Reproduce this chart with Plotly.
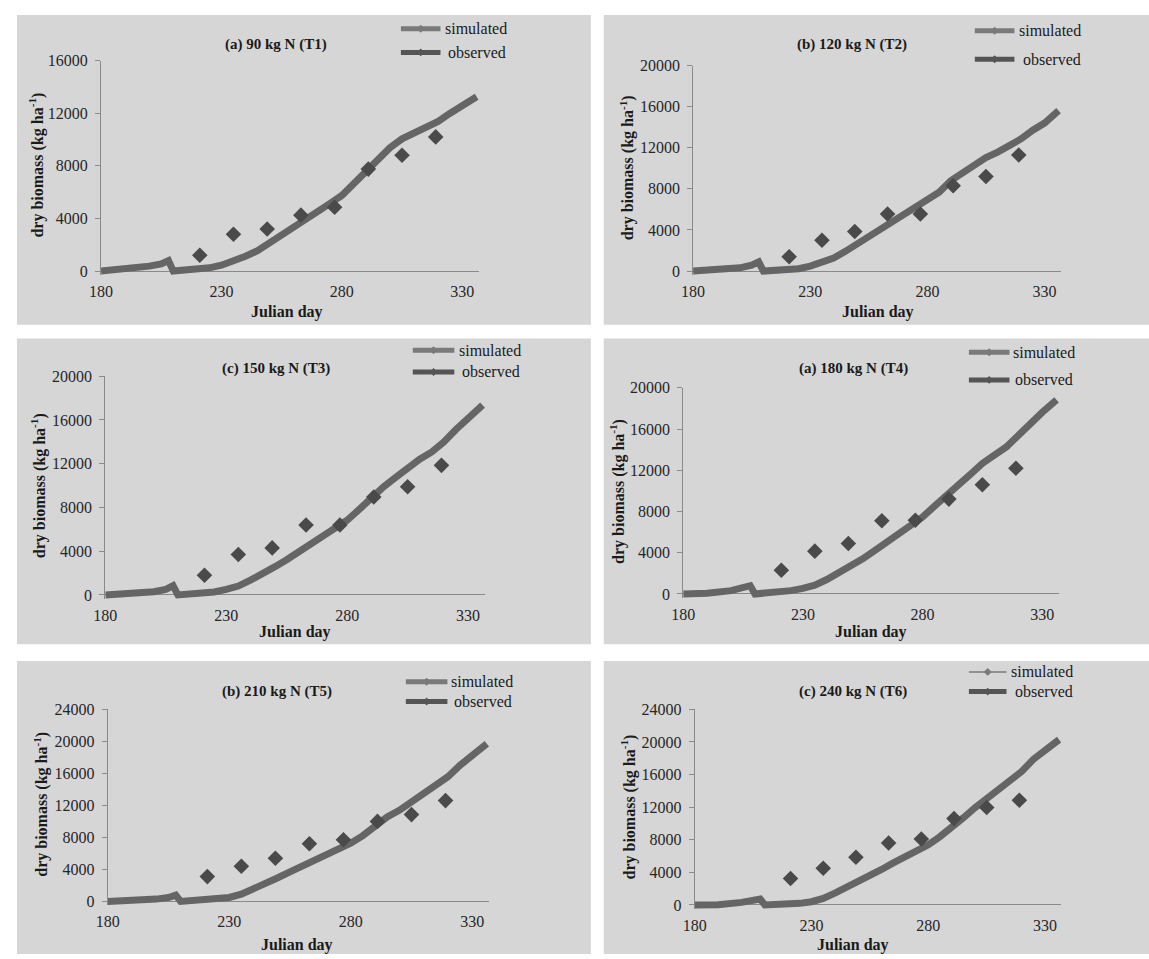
import plotly.graph_objects as go

W, H = 1149, 959

# ---------------- data ----------------
sim_days = [180, 190, 200, 205, 208, 210, 215, 220, 225, 230, 235, 240, 245, 250, 255,
            260, 265, 270, 275, 280, 285, 290, 295, 300, 305, 310, 315, 320, 325, 330, 336]

sim_T1 = [0, 125, 375, 550, 800, 0, 50, 125, 250, 450, 750, 1125, 1550, 2125, 2700,
          3300, 3875, 4550, 5125, 5750, 6625, 7625, 8500, 9375, 10050, 10500, 10875, 11375, 12000, 12550, 13250]
sim_T2 = [0, 100, 320, 575, 900, 0, 64, 100, 225, 480, 860, 1280, 1920, 2650, 3360,
          4100, 4800, 5600, 6240, 6980, 7680, 8800, 9600, 10240, 11040, 11580, 12160, 12860, 13700, 14400, 15600]
sim_T3 = [0, 90, 300, 510, 840, 0, 60, 120, 270, 510, 810, 1350, 1900, 2560, 3220,
          3910, 4600, 5320, 6100, 6830, 7820, 8870, 9870, 10740, 11670, 12420, 13080, 13990, 15130, 16090, 17360]
sim_T4 = [0, 60, 320, 540, 800, 0, 60, 130, 320, 540, 860, 1400, 2040, 2680, 3410,
          4210, 5010, 5800, 6670, 7460, 8520, 9470, 10590, 11610, 12660, 13460, 14260, 15380, 16590, 17610, 18820]
sim_T5 = [0, 80, 290, 490, 780, 0, 80, 160, 290, 490, 900, 1520, 2260, 2960, 3700,
          4400, 5140, 5840, 6580, 7280, 8220, 9330, 10560, 11380, 12490, 13440, 14470, 15580, 17020, 18170, 19690]
sim_T6 = [0, 40, 320, 520, 730, 0, 40, 80, 200, 400, 800, 1450, 2140, 2820, 3550,
          4360, 5160, 5890, 6660, 7380, 8390, 9680, 10690, 11940, 13110, 14040, 15250, 16380, 17870, 18960, 20290]

obs_days = [221, 235, 249, 263, 277, 291, 305, 319]
obs_T1 = [1200, 2800, 3200, 4250, 4850, 7750, 8800, 10200]
obs_T2 = [1400, 3000, 3850, 5550, 5550, 8300, 9200, 11300]
obs_T3 = [1800, 3700, 4300, 6400, 6400, 8950, 9900, 11850]
obs_T4 = [2300, 4150, 4900, 7100, 7150, 9200, 10600, 12200]
obs_T5 = [3100, 4400, 5400, 7200, 7700, 10000, 10850, 12600]
obs_T6 = [3250, 4500, 5850, 7600, 8100, 10600, 11950, 12850]

titles = ["(a) 90 kg N (T1)", "(b) 120 kg N (T2)", "(c) 150 kg N (T3)",
          "(a) 180 kg N (T4)", "(b) 210 kg N (T5)", "(c) 240 kg N (T6)"]
y_max = [16000, 20000, 20000, 20000, 24000, 24000]
y_dtick = [4000, 4000, 4000, 4000, 4000, 4000]
x_ticks = [180, 230, 280, 330]
x_range = [180, 337]
legend_names = ["simulated", "observed"]
x_title = "Julian day"
y_title = "dry biomass (kg ha<sup>-1</sup>)"

sims = [sim_T1, sim_T2, sim_T3, sim_T4, sim_T5, sim_T6]
obss = [obs_T1, obs_T2, obs_T3, obs_T4, obs_T5, obs_T6]

# ---------------- layout geometry (pixels) ----------------
# (axis-left px, axis-right px, y px of zero, y px of max)
geo = [
    (90.0, 472.0, 266.7, 53.3),
    (688.3, 1060.0, 266.7, 58.3),
    (94.3, 478.0, 595.0, 373.3),
    (678.3, 1058.0, 594.0, 385.0),
    (96.7, 482.3, 905.7, 711.0),
    (690.0, 1060.5, 909.3, 711.0),
]
bg_rects = [
    (5, 7, 585, 321), (598, 7, 1149, 321),
    (5, 335, 585, 645), (598, 335, 1149, 645),
    (5, 662, 585, 959), (598, 662, 1149, 959),
]
title_pos = [(267, 37), (849, 37), (267, 365), (850, 365), (268, 693), (850, 693)]
ytitle_pos = [(25, 159), (622, 162), (27, 484), (612, 490), (29, 807), (623, 810)]
xtitle_pos = [(278, 308), (875, 308), (286, 633), (868, 633), (288, 950), (850, 950)]
# legend: (line x0, line x1, y sim, y obs, text x sim, text x obs)
leg_pos = [
    (393, 433, 21, 45, 436, 439),
    (973, 1013, 23, 52, 1016, 1020),
    (405, 447, 347, 369, 450, 453),
    (967, 1008, 349, 377, 1010, 1012),
    (398, 440, 683, 703, 442, 445),
    (967, 1005, 673, 693, 1008, 1012),
]

SERIF = "Liberation Serif, Times New Roman, serif"
BG = "#d6d6d6"
SIM_C = "#656565"
OBS_C = "#4a4a4a"
AX_C = "#8a8a8a"
FS = 16


def px(x):
    return x / W


def py(y):
    return 1 - y / H


fig = go.Figure()
layout = dict(
    width=W, height=H,
    margin=dict(l=0, r=0, t=0, b=0),
    paper_bgcolor="white",
    plot_bgcolor="rgba(0,0,0,0)",
    showlegend=False,
    font=dict(family=SERIF, size=FS, color="#262626"),
)
shapes = []
annotations = []

for i in range(6):
    sfx = "" if i == 0 else str(i + 1)
    xl, xr, y0, yt = geo[i]
    ymx = y_max[i]
    pad_px = 4.0
    ppu = (y0 - yt) / ymx
    ylow = -pad_px / ppu
    layout["xaxis" + sfx] = dict(
        domain=[px(xl), px(xr)], range=x_range, anchor="y" + sfx,
        tickvals=x_ticks, showgrid=False, zeroline=False, showline=False,
        ticks="", ticklabelstandoff=5,
        tickfont=dict(family=SERIF, size=FS, color="#262626"),
    )
    layout["yaxis" + sfx] = dict(
        domain=[py(y0 + pad_px), py(yt)], range=[ylow, ymx], anchor="x" + sfx,
        tickmode="linear", tick0=0, dtick=y_dtick[i], tickformat="d",
        showgrid=False, zeroline=True, zerolinecolor=AX_C, zerolinewidth=1,
        showline=True, linecolor=AX_C, linewidth=1,
        ticks="outside", ticklen=5, tickcolor=AX_C, ticklabelstandoff=4,
        tickfont=dict(family=SERIF, size=FS, color="#262626"),
    )
    fig.add_trace(go.Scatter(
        x=sim_days, y=sims[i], mode="lines", name=legend_names[0],
        line=dict(color=SIM_C, width=7), xaxis="x" + sfx, yaxis="y" + sfx,
    ))
    fig.add_trace(go.Scatter(
        x=obs_days, y=obss[i], mode="markers", name=legend_names[1],
        marker=dict(symbol="diamond", size=12, color=OBS_C), xaxis="x" + sfx, yaxis="y" + sfx,
    ))

    # panel background
    bx0, by0, bx1, by1 = bg_rects[i]
    shapes.append(dict(type="rect", xref="paper", yref="paper", layer="below",
                       x0=px(bx0), x1=px(bx1), y0=py(by1), y1=py(by0),
                       fillcolor=BG, line=dict(width=0)))

    # texts
    tx, ty = title_pos[i]
    annotations.append(dict(text="<b>" + titles[i] + "</b>", x=px(tx), y=py(ty),
                            xref="paper", yref="paper", showarrow=False,
                            xanchor="center", yanchor="middle",
                            font=dict(family=SERIF, size=15, color="#1a1a1a")))
    ax_, ay_ = ytitle_pos[i]
    annotations.append(dict(text="<b>" + y_title + "</b>", x=px(ax_), y=py(ay_),
                            xref="paper", yref="paper", showarrow=False, textangle=-90,
                            xanchor="center", yanchor="middle",
                            font=dict(family=SERIF, size=FS, color="#1a1a1a")))
    xx, xy = xtitle_pos[i]
    annotations.append(dict(text="<b>" + x_title + "</b>", x=px(xx), y=py(xy),
                            xref="paper", yref="paper", showarrow=False,
                            xanchor="center", yanchor="middle",
                            font=dict(family=SERIF, size=FS, color="#1a1a1a")))

    # legend (drawn)
    lx0, lx1, lys, lyo, ltx_s, ltx_o = leg_pos[i]
    sim_w = 1.5 if i == 5 else 5
    for (ly, col, lw, ltx, name) in [(lys, "#7a7a7a", sim_w, ltx_s, legend_names[0]),
                                     (lyo, "#555555", 5, ltx_o, legend_names[1])]:
        shapes.append(dict(type="line", xref="paper", yref="paper",
                           x0=px(lx0), x1=px(lx1), y0=py(ly), y1=py(ly),
                           line=dict(color=col, width=lw)))
        cx = (lx0 + lx1) / 2
        d = 4
        path = "M {},{} L {},{} L {},{} L {},{} Z".format(
            px(cx - d), py(ly), px(cx), py(ly - d), px(cx + d), py(ly), px(cx), py(ly + d))
        shapes.append(dict(type="path", xref="paper", yref="paper", path=path,
                           fillcolor=col, line=dict(color=col, width=0)))
        annotations.append(dict(text=name, x=px(ltx), y=py(ly), xref="paper", yref="paper",
                                showarrow=False, xanchor="left", yanchor="middle",
                                font=dict(family=SERIF, size=FS, color="#1a1a1a")))

layout["shapes"] = shapes
layout["annotations"] = annotations
fig.update_layout(**layout)
fig.write_html(
    "out.html",
    config={"displayModeBar": False},
    post_script=(
        "document.documentElement.style.margin='0px';"
        "document.body.style.margin='0px';"
        "document.body.style.overflow='hidden';"
        "var d=document.getElementById('{plot_id}');"
        "d.style.position='fixed';d.style.left='0px';d.style.top='0px';"
    ),
)
